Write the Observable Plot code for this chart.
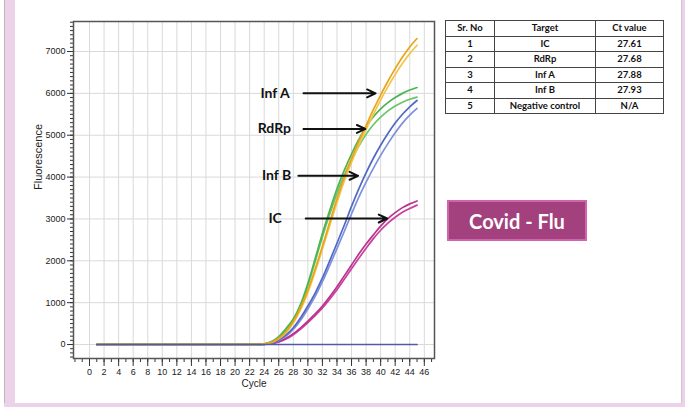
<!DOCTYPE html>
<html><head><meta charset="utf-8">
<script src="https://cdn.jsdelivr.net/npm/d3@7"></script>
<script src="https://cdn.jsdelivr.net/npm/@observablehq/plot@0.6"></script>
<style>
body{margin:0;background:#fff;}
#wrap{position:relative;width:685px;height:407px;overflow:hidden;background:#fff;}
#chart{position:absolute;left:0;top:0;}
.edgeL{position:absolute;left:4px;top:0;width:11px;height:407px;background:#ebd2e8;border-left:1px solid #bdb5bb;box-sizing:border-box;}
.edgeR{position:absolute;right:0;top:0;width:4px;height:407px;background:#ebd2e8;border-left:1px solid #cfc6cd;box-sizing:border-box;}
.edgeB{position:absolute;left:4px;bottom:0;width:681px;height:4px;background:#ebd2e8;}
#tbl{position:absolute;left:445px;top:20px;border-collapse:collapse;font-family:Lato,sans-serif;font-weight:700;font-size:9.5px;color:#111;border:1.5px solid #333;}
#tbl td{border:1px solid #444;height:14.5px;padding:0;text-align:center;line-height:14px;}
#box{position:absolute;left:447px;top:200px;width:140px;height:41px;box-sizing:border-box;background:#a2417e;border:2px solid #d064ae;color:#fff;font-family:Lato,sans-serif;font-weight:700;font-size:20px;display:flex;align-items:center;justify-content:center;}
</style></head><body>
<div id="wrap">
  <div class="edgeL"></div><div class="edgeR"></div><div class="edgeB"></div>
  <div id="chart"></div>
  <table id="tbl"></table>
  <div id="box"></div>
</div>
<script>
// ---- data ----
const cycles = [1,2,3,4,5,6,7,8,9,10,11,12,13,14,15,16,17,18,19,20,21,22,23,24,25,26,27,28,29,30,31,32,33,34,35,36,37,38,39,40,41,42,43,44,45];
const infA_1 = [0,0,0,0,0,0,0,0,0,0,0,0,0,0,0,0,0,0,0,0,0,0,0, 15,55,150,310,550,880,1300,1800,2350,2920,3480,3990,4440,4850,5230,5610,5960,6290,6590,6870,7110,7310];
const infA_2 = [0,0,0,0,0,0,0,0,0,0,0,0,0,0,0,0,0,0,0,0,0,0,0, 12,48,135,285,515,835,1245,1740,2280,2840,3390,3900,4350,4760,5140,5500,5840,6160,6450,6720,6950,7150];
const rdrp_1 = [0,0,0,0,0,0,0,0,0,0,0,0,0,0,0,0,0,0,0,0,0,0,0, 15,70,190,380,610,960,1460,2050,2650,3200,3720,4160,4550,4900,5200,5440,5630,5780,5900,6000,6080,6140];
const rdrp_2 = [0,0,0,0,0,0,0,0,0,0,0,0,0,0,0,0,0,0,0,0,0,0,0, 12,60,170,350,580,920,1400,1980,2570,3110,3610,4040,4410,4740,5020,5250,5430,5580,5700,5790,5860,5910];
const infB_1 = [0,0,0,0,0,0,0,0,0,0,0,0,0,0,0,0,0,0,0,0,0,0,0, 10,40,110,230,400,640,920,1230,1590,2000,2420,2850,3300,3720,4100,4450,4760,5040,5290,5500,5680,5830];
const infB_2 = [0,0,0,0,0,0,0,0,0,0,0,0,0,0,0,0,0,0,0,0,0,0,0, 8,35,95,200,360,580,850,1150,1500,1890,2290,2700,3120,3520,3880,4210,4520,4800,5060,5290,5480,5640];
const ic_1   = [0,0,0,0,0,0,0,0,0,0,0,0,0,0,0,0,0,0,0,0,0,0,0, 5,25,70,150,260,400,560,730,920,1140,1380,1640,1900,2160,2400,2620,2830,3010,3150,3270,3360,3430];
const ic_2   = [0,0,0,0,0,0,0,0,0,0,0,0,0,0,0,0,0,0,0,0,0,0,0, 4,20,60,130,235,370,525,690,875,1085,1310,1560,1810,2060,2300,2530,2730,2900,3040,3160,3250,3330];
const negCtrl= [0,0,0,0,0,0,0,0,0,0,0,0,0,0,0,0,0,0,0,0,0,0,0, 0,0,0,0,0,0,0,0,0,0,0,0,0,0,0,0,0,0,0,0,0,0];

const xTickLabels = [0,2,4,6,8,10,12,14,16,18,20,22,24,26,28,30,32,34,36,38,40,42,44,46];
const xMinorTicks = [-2,-1,0,1,2,3,4,5,6,7,8,9,10,11,12,13,14,15,16,17,18,19,20,21,22,23,24,25,26,27,28,29,30,31,32,33,34,35,36,37,38,39,40,41,42,43,44,45,46,47];
const yTickLabels = [0,1000,2000,3000,4000,5000,6000,7000];
const yMinorTicks = d3.range(-300, 7701, 100);

// annotations (data coordinates)
const annotLabels = ["Inf A","RdRp","Inf B","IC"];
const annotLabelX = [25.5, 25.4, 25.7, 25.5];
const annotY      = [6000, 5150, 4030, 3010];
const annotFrom   = [29.4, 29.4, 28.7, 29.7];
const annotTo     = [39.3, 37.9, 36.9, 40.9];

// table
const tblHeader = ["Sr. No","Target","Ct value"];
const tblSrNo   = ["1","2","3","4","5"];
const tblTarget = ["IC","RdRp","Inf A","Inf B","Negative control"];
const tblCt     = ["27.61","27.68","27.88","27.93","N/A"];
const badgeText = "Covid - Flu";

// ---- build ----
const toRows = (vals) => cycles.map((c, i) => ({cycle: c, value: vals[i]}));
const annot = annotLabels.map((t, i) => ({text: t, lx: annotLabelX[i], y: annotY[i], x1: annotFrom[i], x2: annotTo[i]}));

const lineOpts = (stroke) => ({x: "cycle", y: "value", stroke, strokeWidth: 1.7, curve: "catmull-rom"});

const chart = Plot.plot({
  width: 685, height: 407,
  marginLeft: 73, marginRight: 251, marginTop: 21, marginBottom: 49,
  style: {background: "transparent", fontFamily: "'Liberation Sans', Arial, sans-serif", fontSize: "9px", color: "#222", overflow: "visible"},
  x: {domain: [-2.2, 47.4]},
  y: {domain: [-334, 7717]},
  marks: [
    Plot.gridX(xTickLabels, {stroke: "#d9d9d9", strokeOpacity: 1}),
    Plot.gridY(yTickLabels, {stroke: "#d9d9d9", strokeOpacity: 1}),
    Plot.axisY(yMinorTicks, {tickSize: 3, tickFormat: () => "", stroke: "#333", label: null}),
    Plot.axisY(yTickLabels, {tickSize: 6, tickPadding: 2, tickFormat: d3.format("d"), stroke: "#333", label: null, fontSize: 9}),
    Plot.axisX(xMinorTicks, {tickSize: 4, tickFormat: () => "", stroke: "#333", label: null}),
    Plot.axisX(xTickLabels, {tickSize: 8, tickPadding: 2, stroke: "#333", label: null, fontSize: 9}),
    Plot.text(["Cycle"], {frameAnchor: "bottom", dy: 28, fontSize: 10, fill: "#222"}),
    Plot.text(["Fluorescence"], {frameAnchor: "left", dx: -35, rotate: -90, fontSize: 11, fill: "#222"}),
    Plot.frame({stroke: "#555", strokeWidth: 1.5}),
    Plot.line(toRows(ic_2), lineOpts("#c93f9e")),
    Plot.line(toRows(ic_1), lineOpts("#b8358f")),
    Plot.line(toRows(infB_2), lineOpts("#8090dc")),
    Plot.line(toRows(infB_1), lineOpts("#4f6ac6")),
    Plot.line(toRows(rdrp_2), lineOpts("#68c56a")),
    Plot.line(toRows(rdrp_1), lineOpts("#4db452")),
    Plot.line(toRows(infA_2), lineOpts("#f3c64a")),
    Plot.line(toRows(infA_1), lineOpts("#eaa31c")),
    Plot.line(toRows(negCtrl), lineOpts("#5558a8")),
    Plot.arrow(annot, {x1: "x1", y1: "y", x2: "x2", y2: "y", stroke: "#111", strokeWidth: 2, headLength: 7, headAngle: 50}),
    Plot.text(annot, {x: "lx", y: "y", text: "text", fontFamily: "Lato, sans-serif", fontWeight: 700, fontSize: 14, fill: "#111"})
  ]
});
document.getElementById("chart").appendChild(chart);

// table
const tbl = document.getElementById("tbl");
const widths = [48, 100, 67];
const hr = tbl.insertRow();
tblHeader.forEach((h, i) => { const c = hr.insertCell(); c.textContent = h; c.style.width = widths[i] + "px"; });
tblSrNo.forEach((s, i) => {
  const r = tbl.insertRow();
  [s, tblTarget[i], tblCt[i]].forEach(v => { const c = r.insertCell(); c.textContent = v; });
});
document.getElementById("box").textContent = badgeText;
</script>
</body></html>
